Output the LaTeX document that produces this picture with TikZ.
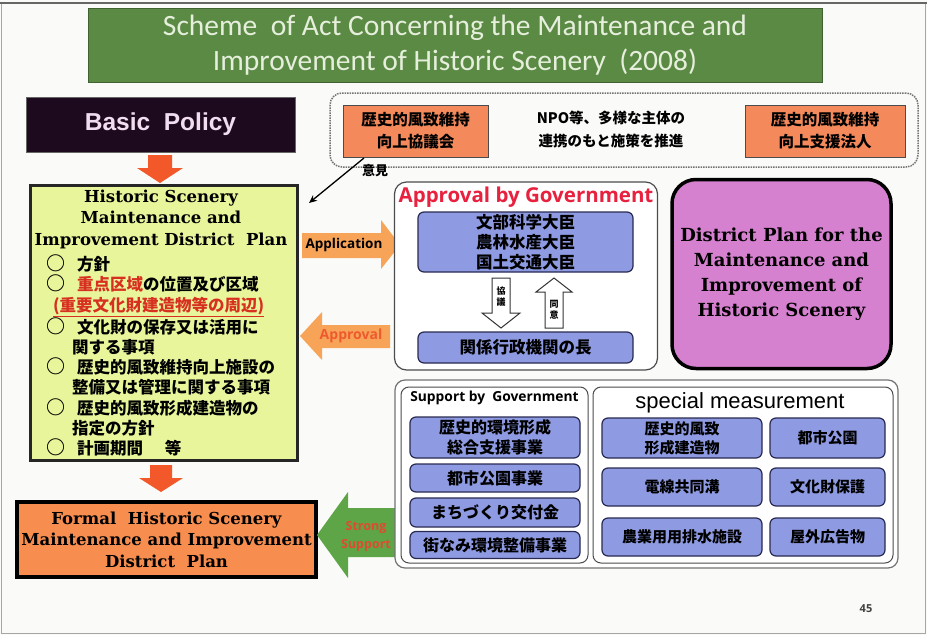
\documentclass[tikz,border=0pt]{standalone}
\usepackage{fontspec}
\setmainfont{DejaVu Serif}
\newfontfamily\calfont{Carlito}
\newfontfamily\arfont{Liberation Sans}
\newfontfamily\osfont{Open Sans}
\newfontfamily\jp{Noto Sans CJK JP}
\usetikzlibrary{arrows.meta}
\definecolor{bgc}{HTML}{FAFBF8}
\definecolor{titlegreen}{HTML}{5B8A45}
\definecolor{titletext}{HTML}{E6EFDC}
\definecolor{bpdark}{HTML}{1E0A1F}
\definecolor{bptext}{HTML}{F2DDF0}
\definecolor{planyellow}{HTML}{E8F59B}
\definecolor{formalorange}{HTML}{F78E50}
\definecolor{boxorange}{HTML}{F4895B}
\definecolor{arrowred}{HTML}{F2582A}
\definecolor{apporange}{HTML}{F8A458}
\definecolor{approvtext}{HTML}{EE5A2E}
\definecolor{supgreen}{HTML}{5EA548}
\definecolor{suptext}{HTML}{E04A2E}
\definecolor{govred}{HTML}{E8213F}
\definecolor{periwinkle}{HTML}{8E9BE3}
\definecolor{bluedark}{HTML}{2A2A50}
\definecolor{orchid}{HTML}{D680D0}
\definecolor{jpred}{HTML}{D83020}
\begin{document}
\begin{tikzpicture}[x=1pt,y=-1pt,
  every node/.style={inner sep=0pt,outer sep=0pt},
  bluebox/.style={draw=bluedark,fill=periwinkle,line width=1.2pt,rounded corners=6pt},
  orbox/.style={draw=black!70,fill=boxorange,line width=1pt},
  jpb/.style={font=\jp\bfseries\fontsize{16}{20}\selectfont,align=center},
  serifb/.style={font=\bfseries\fontsize{16.5}{21.5}\selectfont,align=center},
  panel/.style={draw=black!70,line width=1pt,rounded corners=8pt,fill=white},
  ring/.style={},
]
\useasboundingbox (0,0) rectangle (927,635);
\fill[bgc] (0,0) rectangle (927,635);
\draw[gray!70,line width=1pt] (1.5,3) rectangle (925.5,633);
\draw[black!60,line width=1.5pt] (0,3) -- (927,3);

% title
\node[draw=titlegreen!70!black,fill=titlegreen,minimum width=734pt,minimum height=74pt] (title) at (455,45) {};
\node[font=\calfont\fontsize{29.5}{35}\selectfont,text=titletext,align=center] (titletxt) at (455,45)
  {Scheme\ \ of Act Concerning the Maintenance and\\Improvement of Historic Scenery\ \ (2008)};

% basic policy
\node[draw=black!60,fill=bpdark,minimum width=269pt,minimum height=55pt,
  font=\arfont\bfseries\fontsize{24.5}{28}\selectfont,text=bptext] (bp) at (160.5,124.5) {Basic\ \ Policy};

% arrow 1
\fill[arrowred] (148,155) -- (172,155) -- (172,168) -- (183,168) -- (160,183) -- (137,168) -- (148,168) -- cycle;

% plan box
\node[draw=black!85,fill=planyellow,line width=3pt,minimum width=267pt,minimum height=275pt] (plan) at (164,322.5) {};
\node[serifb] (plantitle) at (161,219) {Historic Scenery\\Maintenance and\\Improvement District\ \ Plan};
\node[anchor=north west,align=left,font=\jp\bfseries\fontsize{16.5}{20.2}\selectfont] (planlist) at (46,255)
 {\makebox[31pt][l]{\fontsize{19}{20}\selectfont ○}方針\\
  \makebox[31pt][l]{\fontsize{19}{20}\selectfont ○}\textcolor{jpred}{重点区域}の位置及び区域\\
  \hspace*{7pt}\textcolor{jpred}{\underline{(重要文化財建造物等の周辺)}}\\
  \makebox[31pt][l]{\fontsize{19}{20}\selectfont ○}文化財の保存又は活用に\\
  \hspace*{26pt}関する事項\\
  \makebox[31pt][l]{\fontsize{19}{20}\selectfont ○}歴史的風致維持向上施設の\\
  \hspace*{26pt}整備又は管理に関する事項\\
  \makebox[31pt][l]{\fontsize{19}{20}\selectfont ○}歴史的風致形成建造物の\\
  \hspace*{26pt}指定の方針\\
  \makebox[31pt][l]{\fontsize{19}{20}\selectfont ○}計画期間\hspace{22pt}等};

% arrow 2
\fill[arrowred] (150,465) -- (172,465) -- (172,478) -- (183,478) -- (161,492) -- (139,478) -- (150,478) -- cycle;

% formal plan
\node[draw=black,fill=formalorange,line width=3.5pt,minimum width=299pt,minimum height=75pt,
  font=\bfseries\fontsize{16.5}{21.5}\selectfont,align=center] (formal) at (166.5,539.5)
  {Formal\ \ Historic Scenery\\Maintenance and Improvement\\District\ \ Plan};

% strong support arrow
\fill[supgreen] (395,508) -- (348,508) -- (348,492) -- (317,535) -- (348,578) -- (348,557) -- (395,557) -- cycle;
\node[font=\osfont\bfseries\fontsize{12.5}{18}\selectfont,text=suptext,align=center] (strong) at (366,536) {Strong\\Support};

% top dotted box
\node[draw=black!55,densely dotted,line width=1.5pt,rounded corners=12pt,minimum width=588pt,minimum height=74pt] (npo) at (624,130) {};
\node[orbox,minimum width=145pt,minimum height=52pt,jpb,font=\jp\bfseries\fontsize{15.5}{22}\selectfont] (council) at (415.5,131) {歴史的風致維持\\向上協議会};
\node[jpb,font=\jp\bfseries\fontsize{14.5}{23}\selectfont] (npotext) at (611,129) {NPO等、多様な主体の\\連携のもと施策を推進};
\node[orbox,minimum width=160pt,minimum height=52pt,jpb,font=\jp\bfseries\fontsize{15.5}{22}\selectfont] (corp) at (825,131) {歴史的風致維持\\向上支援法人};

% opinion arrow
\coordinate (opstart) at (364,158);
\coordinate (opend) at (309,203);
\draw[-{Stealth[length=8pt,width=7pt]},line width=1.3pt] (opstart) -- (opend);
\node[font=\jp\bfseries\fontsize{13}{15}\selectfont] (opinion) at (375,171) {意見};

% application / approval arrows
\fill[apporange] (302,233) -- (381,233) -- (381,220) -- (400,245) -- (381,269) -- (381,258) -- (302,258) -- cycle;
\node[font=\osfont\bfseries\fontsize{13.5}{15}\selectfont] (application) at (344,245) {Application};
\fill[apporange] (390,325) -- (322,325) -- (322,312) -- (300,336) -- (322,360) -- (322,348) -- (390,348) -- cycle;
\node[font=\osfont\bfseries\fontsize{14}{15}\selectfont,text=approvtext] (approval) at (351,336) {Approval};

% approval by government
\node[draw=black!70,line width=1.2pt,rounded corners=12pt,fill=white,minimum width=263pt,minimum height=188pt] (gov) at (526,276) {};
\node[font=\osfont\bfseries\fontsize{20.5}{22}\selectfont,text=govred] (govtitle) at (526,197) {Approval by Government};
\node[bluebox,minimum width=215pt,minimum height=60pt,jpb,font=\jp\bfseries\fontsize{16.5}{19.8}\selectfont] (ministers) at (525.5,242) {文部科学大臣\\農林水産大臣\\国土交通大臣};
\node[bluebox,minimum width=215pt,minimum height=31pt,jpb,font=\jp\bfseries\fontsize{16.5}{20}\selectfont] (heads) at (525.5,347.5) {関係行政機関の長};
\draw[draw=black!80,fill=white,line width=1pt] (492,278) -- (510,278) -- (510,313) -- (520,313) -- (501,328) -- (482,313) -- (492,313) -- cycle;
\node[font=\jp\bfseries\fontsize{9}{11}\selectfont,align=center] (consult) at (501,297) {協\\議};
\draw[draw=black!80,fill=white,line width=1pt] (545,328) -- (563,328) -- (563,292) -- (572,292) -- (554,278) -- (536,292) -- (545,292) -- cycle;
\node[font=\jp\bfseries\fontsize{9}{11}\selectfont,align=center] (consent) at (554,310) {同\\意};

% district plan (magenta)
\node[draw=black,fill=orchid,line width=3.5pt,rounded corners=24pt,minimum width=219pt,minimum height=189pt,
  font=\bfseries\fontsize{18}{25}\selectfont,align=center] (district) at (781.5,274)
  {District Plan for the\\Maintenance and\\Improvement of\\Historic Scenery};

% bottom support area
\node[draw=black!55,line width=1.2pt,rounded corners=10pt,fill=white,minimum width=503pt,minimum height=188pt] (bottom) at (646.5,474) {};
\node[panel,minimum width=187pt,minimum height=176pt] (suppanel) at (494.5,475) {};
\node[font=\osfont\bfseries\fontsize{13.8}{15}\selectfont] (suptitle) at (494.5,398) {Support by\ \ Government};
\node[bluebox,minimum width=170pt,minimum height=41pt,jpb] (s1) at (495,437.5) {歴史的環境形成\\総合支援事業};
\node[bluebox,minimum width=170pt,minimum height=28pt,jpb] (s2) at (495,478) {都市公園事業};
\node[bluebox,minimum width=170pt,minimum height=29pt,jpb] (s3) at (495,512.5) {まちづくり交付金};
\node[bluebox,minimum width=170pt,minimum height=27pt,jpb] (s4) at (495,545) {街なみ環境整備事業};

\node[panel,minimum width=300pt,minimum height=176pt] (sppanel) at (743,475) {};
\node[font=\arfont\fontsize{22}{24}\selectfont] (sptitle) at (740,403) {special measurement};
\node[bluebox,minimum width=160pt,minimum height=40pt,jpb,font=\jp\bfseries\fontsize{15}{19}\selectfont] (m1) at (682,438) {歴史的風致\\形成建造物};
\node[bluebox,minimum width=115pt,minimum height=40pt,jpb,font=\jp\bfseries\fontsize{15}{19}\selectfont] (m2) at (827.5,438) {都市公園};
\node[bluebox,minimum width=160pt,minimum height=38pt,jpb,font=\jp\bfseries\fontsize{15}{19}\selectfont] (m3) at (682,487) {電線共同溝};
\node[bluebox,minimum width=115pt,minimum height=38pt,jpb,font=\jp\bfseries\fontsize{15}{19}\selectfont] (m4) at (827.5,487) {文化財保護};
\node[bluebox,minimum width=160pt,minimum height=38pt,jpb,font=\jp\bfseries\fontsize{15}{19}\selectfont] (m5) at (682,537) {農業用用排水施設};
\node[bluebox,minimum width=115pt,minimum height=38pt,jpb,font=\jp\bfseries\fontsize{15}{19}\selectfont] (m6) at (827.5,537) {屋外広告物};

% page number
\node[font=\osfont\bfseries\fontsize{11}{13}\selectfont,text=black!75] (page) at (866,609) {45};
\end{tikzpicture}
\end{document}
